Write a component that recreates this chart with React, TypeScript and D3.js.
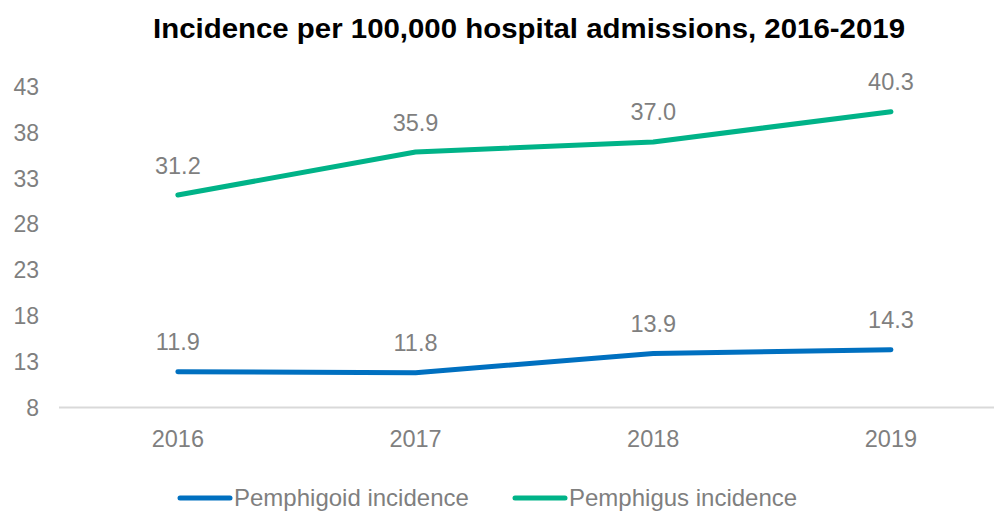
import React from "react";
import * as d3 from "d3";

const years = ["2016", "2017", "2018", "2019"];
const pemphigoid = [11.9, 11.8, 13.9, 14.3];
const pemphigus = [31.2, 35.9, 37.0, 40.3];
const yTicks = [8, 13, 18, 23, 28, 33, 38, 43];
const seriesNames = ["Pemphigoid incidence", "Pemphigus incidence"];
const seriesColors = ["#0070C0", "#00B388"];

const W = 994;
const H = 511;
const FONT = "Liberation Sans, Arial, sans-serif";

export default function App() {
  const x = d3.scaleBand<string>().domain(years).range([59, 59 + 4 * 237.7]);
  const y = d3.scaleLinear().domain([8, 43]).range([407.5, 87]);
  const cx = (d: string) => (x(d) as number) + x.bandwidth() / 2;
  const line = d3
    .line<number>()
    .x((_, i) => cx(years[i]))
    .y((v) => y(v));
  const series = [pemphigoid, pemphigus];

  return (
    <svg width={W} height={H} style={{ position: "absolute", left: 0, top: 0, background: "#fff" }}>
      <text x={153} y={37.5} textLength={752} lengthAdjust="spacingAndGlyphs" fontFamily={FONT} fontWeight="bold" fontSize={27} fill="#000">
        Incidence per 100,000 hospital admissions, 2016-2019
      </text>
      {yTicks.map((t) => (
        <text key={t} x={39} y={y(t) + 8} textAnchor="end" fontFamily={FONT} fontSize={23} fill="#7f7f7f">
          {t}
        </text>
      ))}
      <line x1={59} x2={W} y1={407.5} y2={407.5} stroke="#d9d9d9" strokeWidth={2} />
      {years.map((yr) => (
        <text key={yr} x={cx(yr)} y={447} textAnchor="middle" fontFamily={FONT} fontSize={23.5} fill="#7f7f7f">
          {yr}
        </text>
      ))}
      {series.map((s, k) => (
        <g key={k}>
          <path d={line(s) || ""} fill="none" stroke={seriesColors[k]} strokeWidth={5} strokeLinecap="round" strokeLinejoin="round" />
          {s.map((v, i) => (
            <text key={i} x={cx(years[i])} y={y(v) - 21.5} textAnchor="middle" fontFamily={FONT} fontSize={23.5} fill="#7f7f7f">
              {v.toFixed(1)}
            </text>
          ))}
        </g>
      ))}
      {seriesNames.map((n, k) => {
        const lx = k === 0 ? 180 : 515;
        return (
          <g key={n}>
            <line x1={lx} x2={lx + 50} y1={498} y2={498} stroke={seriesColors[k]} strokeWidth={5} strokeLinecap="round" />
            <text x={lx + 54} y={506} fontFamily={FONT} fontSize={24} fill="#7f7f7f">
              {n}
            </text>
          </g>
        );
      })}
    </svg>
  );
}
